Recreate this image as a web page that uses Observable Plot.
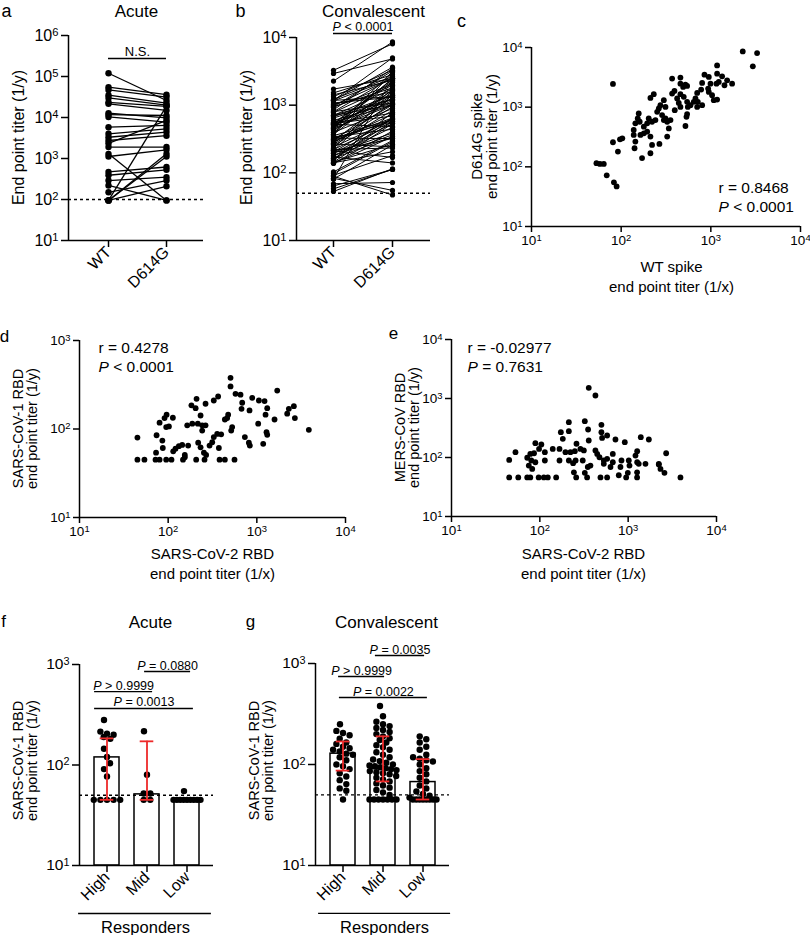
<!DOCTYPE html>
<html><head><meta charset="utf-8">
<script src="https://cdn.jsdelivr.net/npm/d3@7"></script>
<script src="https://cdn.jsdelivr.net/npm/@observablehq/plot@0.6"></script>
<style>
body{margin:0;background:#fff}
#fig{position:relative;width:810px;height:935px;background:#fff}
#fig svg{position:absolute;left:0;top:0}
</style></head><body><div id="fig"></div>
<script>
// ---------- DATA ----------
const pairCats = ["WT", "D614G"];
const respCats = ["High", "Mid", "Low"];

// a: acute, paired WT vs D614G end point titers
const acuteWT    = [120000,55000,47000,35000,30000,23500,21500,12800,11700,10300,5800,4000,3300,2750,2350,1900,1300,1120,470,390,290,220,150,95,95,95,95];
const acuteD614G = [26000,36000,31500,22400,20000,18600,14900,9800,11200,7700,6400,5300,4400,3600,8500,1900,95,1630,620,530,350,95,290,210,1300,1120,19000];

// b & c: convalescent, WT vs D614G spike
const convWT    = [2270,3280,2940,81,1175,849,949,1175,1336,1227,1420,1727,991,1156,933,949,780,704,674,800,716,1079,1175,458,370,521,458,544,393,458,421,439,499,544,554,544,535,593,396,299,231,212,274,263,252,286,312,326,355,340,326,299,241,203,221,195,157,153,161,144,138,138,164,179,195,212,221,212,267,171,144,141,103,97,81,92,53,58,64,69,83,89,521,370,491,800,645,704,1520,1033,312,179,458];
const convD614G = [8590,8050,4830,2450,5010,3510,3210,3640,3290,2650,2330,2480,2480,2480,2050,1800,1970,1730,1400,1080,1230,1310,1340,3130,3010,2390,2480,2270,1870,1650,1400,1180,1490,1230,1010,765,690,1080,891,1310,1650,1430,1080,950,837,736,648,570,608,441,321,608,608,648,570,535,785,648,570,535,414,342,342,364,388,321,233,169,242,140,265,205,301,289,258,180,115,112,112,72,55,47,483,1690,2180,2550,1230,1010,2820,1585,1010,471,1010];

// d: SARS-CoV-2 RBD vs SARS-CoV-1 RBD
const dRBD2 = [505,505,1698,575,655,366,327,209,264,183,204,887,1055,1222,1310,684,827,672,2296,2616,2200,2685,3860,1254,1584,1036,1286,1310,1180,733,813,834,475,463,436,527,514,357,396,327,314,293,373,264,242,216,187,164,242,232,168,144,132,121,114,218,232,253,268,154,154,96,91,113,80,95,102,74,86,87,73,45,45,54,72,80,95,109,147,207,257,380,436,560];
const dRBD1 = [379,303,272,250,244,233,210,219,193,185,172,225,210,207,172,198,162,169,169,181,149,133,98,145,128,115,92,86,68,81,70,65,145,133,128,105,96,88,87,81,71,65,61,110,110,115,115,110,96,142,65,66,64,60,56,70,62,54,51,51,48,145,133,134,118,105,107,85,74,61,54,80,45,45,45,45,45,45,45,45,45,45,45,45];

// e: SARS-CoV-2 RBD vs MERS-CoV RBD
const eRBD2 = [358,426,213,323,498,173,213,352,498,578,507,718,916,1390,1714,182,358,260,89,104,53,45,72,78,86,98,114,140,167,195,222,249,288,315,167,213,254,306,426,446,473,578,670,840,1016,1210,1265,1265,1570,2223,2692,80,89,114,530,75,82,238,243,323,349,374,530,670,631,818,783,1035,991,1318,1262,2223,2322,2576,45,57,72,78,97,111,123,153,258,343,486,578,949,1262,3908];
const eMERS = [1517,1125,397,413,358,269,279,298,269,236,215,202,182,221,202,207,194,171,175,166,123,91,99,115,118,140,123,140,140,123,123,128,140,132,89,89,89,89,132,115,101,95,115,89,89,108,128,83,78,78,118,89,83,89,89,73,64,80,56,55,69,73,78,83,69,69,50,73,55,78,56,76,64,55,46,46,46,46,46,46,46,46,46,46,46,46,46,46,46];

// f: acute SARS-CoV-1 RBD by responder group
const fHigh = [280,215,205,200,190,182,145,120,104,91,77,45,45,45,45,45];
const fMid  = [217,80,52,52,45,45];
const fLow  = [55,45,45,45,45,45,45,45,45,45];
const fBar  = [119,51,45];
const fLo   = [45,45,null];
const fHi   = [184,172,null];

// g: convalescent SARS-CoV-1 RBD by responder group
const gHigh = [250,215,205,195,180,165,160,150,145,140,135,128,125,118,110,100,96,90,82,76,70,64,58,55,45];
const gMid  = [380,300,265,250,240,230,220,210,200,190,182,175,165,155,148,140,132,125,118,112,108,104,100,98,96,94,92,90,88,86,84,82,80,77,74,71,68,65,62,59,56,53,50,45,45,45,45,45,45,45];
const gLow  = [190,178,165,150,140,125,118,114,110,107,100,92,86,80,74,68,62,58,54,51,49,47,45,45,45,45,45,45,45,45];
const gBar  = [128,90,67];
const gLo   = [87,68,45];
const gHi   = [169,190,113];

// significance annotations (category units, titer levels)
const sigA = [{x1: 0, x2: 1, y: 275000, label: "N.S."}];
const sigB = [{x1: 0, x2: 1, y: 11460, label: "P < 0.0001"}];
const sigF = [{x1: 0.94, x2: 2.09, y: 851, label: "P = 0.0880"},
              {x1: -0.31, x2: 1.14, y: 537, label: "P > 0.9999"},
              {x1: -0.31, x2: 2.16, y: 365, label: "P = 0.0013"}];
const sigG = [{x1: 0.81, x2: 2.04, y: 1200, label: "P = 0.0035"},
              {x1: -0.11, x2: 1.04, y: 743, label: "P > 0.9999"},
              {x1: -0.09, x2: 2.11, y: 460, label: "P = 0.0022"}];
const statsC = ["r = 0.8468", "P < 0.0001"];
const statsD = ["r = 0.4278", "P < 0.0001"];
const statsE = ["r = -0.02977", "P = 0.7631"];

// ---------- RENDER ----------
const FONT = '"Liberation Sans", Arial, Helvetica, sans-serif';
const RED = "#ee2a2a";
const W = 810, H = 935;
const fig = document.getElementById("fig");
const pow = d => "10^" + Math.round(Math.log10(d));
const decades = (a, b) => d3.range(a, b + 1).map(e => 10 ** e);
const NS = "http://www.w3.org/2000/svg";

function decorate(svg) {
  svg.querySelectorAll("text, tspan").forEach(t => {
    if (t.children.length) return;
    const s = t.textContent;
    let m = /^10\^(-?\d+)$/.exec(s);
    if (m) {
      t.textContent = "";
      const a = document.createElementNS(NS, "tspan"); a.textContent = "10";
      const b = document.createElementNS(NS, "tspan"); b.textContent = m[1];
      b.setAttribute("dy", "-0.42em"); b.setAttribute("font-size", "0.7em");
      t.append(a, b);
      return;
    }
    if (/^P [<>=]/.test(s)) {
      t.textContent = "";
      const a = document.createElementNS(NS, "tspan"); a.textContent = "P";
      a.setAttribute("font-style", "italic");
      t.append(a, document.createTextNode(s.slice(1)));
    }
  });
}

function render(frame, scales, fs, build) {
  const [l, t, r, b] = frame;
  const T = (str, ax, ay, o = {}) => Plot.text([str], {
    text: d => d, frameAnchor: "top-left", textAnchor: "middle", lineAnchor: "middle",
    dx: ax - l, dy: ay - t, fill: "black", ...o
  });
  const svg = Plot.plot({
    width: W, height: H,
    marginLeft: l, marginTop: t, marginRight: W - r, marginBottom: H - b,
    ...scales,
    style: {background: "transparent", overflow: "visible", fontFamily: FONT, fontSize: fs + "px", color: "black"},
    marks: build(T)
  });
  decorate(svg);
  fig.appendChild(svg);
}

const axY = (ds, fs, o = {}) => Plot.axisY({ticks: ds, tickFormat: pow, tickSize: 7, tickPadding: 3, strokeWidth: 1.5, label: null, fontSize: fs, ...o});
const axXlog = (ds, fs, o = {}) => Plot.axisX({ticks: ds, tickFormat: pow, tickSize: 7, tickPadding: 3, strokeWidth: 1.5, label: null, fontSize: fs, ...o});
const axXcat = (cats, fs, o = {}) => Plot.axisX({ticks: d3.range(cats.length), tickFormat: i => cats[i], tickRotate: -45, tickSize: 7, tickPadding: 2, strokeWidth: 1.5, label: null, fontSize: fs, ...o});

function sigMarks(sig, fs) {
  return [
    Plot.ruleY(sig, {y: "y", x1: "x1", x2: "x2", stroke: "black", strokeWidth: 1.4}),
    Plot.text(sig, {x: d => (d.x1 + d.x2) / 2, y: "y", text: "label", lineAnchor: "bottom", dy: -2, fontSize: fs, fill: "black"})
  ];
}

// ---- a ----
render([68, 35, 203, 240], {x: {type: "linear", domain: [-0.69, 1.638]}, y: {type: "log", domain: [10, 1e6]}}, 16, T => [
  Plot.ruleY([100], {strokeDasharray: "3,3", strokeWidth: 1.4, stroke: "black"}),
  Plot.link(d3.range(acuteWT.length), {x1: () => 0, y1: i => acuteWT[i], x2: () => 1, y2: i => acuteD614G[i], stroke: "black", strokeWidth: 1.3}),
  Plot.dot(acuteWT, {x: () => 0, y: d => d, r: 3.2, fill: "black"}),
  Plot.dot(acuteD614G, {x: () => 1, y: d => d, r: 3.2, fill: "black"}),
  Plot.ruleX([-0.69], {strokeWidth: 1.5, stroke: "black"}),
  Plot.ruleY([10], {strokeWidth: 1.5, stroke: "black"}),
  axY(decades(1, 6), 16),
  axXcat(pairCats, 16),
  ...sigMarks(sigA, 13),
  T("a", 1, 11, {textAnchor: "start", fontSize: 18}),
  T("Acute", 136, 11, {fontSize: 17}),
  T("End point titer (1/y)", 18, 137, {rotate: -90, fontSize: 16})
]);

// ---- b ----
render([296, 37, 430, 240], {x: {type: "linear", domain: [-0.627, 1.644]}, y: {type: "log", domain: [10, 1e4]}}, 16, T => [
  Plot.ruleY([50], {strokeDasharray: "3,3", strokeWidth: 1.4, stroke: "black"}),
  Plot.link(d3.range(convWT.length), {x1: () => 0, y1: i => convWT[i], x2: () => 1, y2: i => convD614G[i], stroke: "black", strokeWidth: 1}),
  Plot.dot(convWT, {x: () => 0, y: d => d, r: 2.6, fill: "black"}),
  Plot.dot(convD614G, {x: () => 1, y: d => d, r: 2.6, fill: "black"}),
  Plot.ruleX([-0.627], {strokeWidth: 1.5, stroke: "black"}),
  Plot.ruleY([10], {strokeWidth: 1.5, stroke: "black"}),
  axY(decades(1, 4), 16),
  axXcat(pairCats, 16),
  ...sigMarks(sigB, 12.5),
  T("b", 240, 11, {fontSize: 18}),
  T("Convalescent", 373, 11, {fontSize: 17}),
  T("End point titer (1/y)", 246, 137, {rotate: -90, fontSize: 16})
]);

// scatter panels c, d, e
function scatter(frame, yMax, xs, ys, fs, textFn) {
  render(frame, {x: {type: "log", domain: [10, 1e4]}, y: {type: "log", domain: [10, yMax]}}, fs, T => [
    Plot.dot(d3.range(xs.length), {x: i => xs[i], y: i => ys[i], r: 2.9, fill: "black"}),
    Plot.ruleX([10], {strokeWidth: 1.5, stroke: "black"}),
    Plot.ruleY([10], {strokeWidth: 1.5, stroke: "black"}),
    axY(decades(1, Math.round(Math.log10(yMax))), fs, {tickSize: 6}),
    axXlog(decades(1, 4), fs, {tickSize: 6}),
    ...textFn(T)
  ]);
}

scatter([531, 47, 800, 226], 1e4, convWT, convD614G, 13.5, T => [
  T("c", 461, 21, {fontSize: 18}),
  T("D614G spike\nend point titer (1/y)", 484, 136, {rotate: -90, fontSize: 15, lineHeight: 1}),
  T("WT spike\nend point titer (1/x)", 671, 275, {fontSize: 15, lineHeight: 1.33}),
  T(statsC[0], 718, 188, {textAnchor: "start", fontSize: 15.5}),
  T(statsC[1], 718, 207, {textAnchor: "start", fontSize: 15.5})
]);

scatter([79, 340, 345, 517], 1e3, dRBD2, dRBD1, 13.5, T => [
  T("d", 4, 336, {fontSize: 17}),
  T("SARS-CoV-1 RBD\nend point titer (1/y)", 25, 428, {rotate: -90, fontSize: 14.5, lineHeight: 1}),
  T("SARS-CoV-2 RBD\nend point titer (1/x)", 212, 562, {fontSize: 15, lineHeight: 1.33}),
  T(statsD[0], 98, 348, {textAnchor: "start", fontSize: 15.5}),
  T(statsD[1], 98, 367, {textAnchor: "start", fontSize: 15.5})
]);

scatter([451, 339, 716, 516], 1e4, eRBD2, eMERS, 13.5, T => [
  T("e", 393, 333, {fontSize: 17}),
  T("MERS-CoV RBD\nend point titer (1/y)", 407, 427, {rotate: -90, fontSize: 14.5, lineHeight: 1}),
  T("SARS-CoV-2 RBD\nend point titer (1/x)", 583, 562, {fontSize: 15, lineHeight: 1.33}),
  T(statsE[0], 467, 348, {textAnchor: "start", fontSize: 15.5}),
  T(statsE[1], 467, 367, {textAnchor: "start", fontSize: 15.5})
]);

// column scatter (rows of points) for f, g
function swarm(groups, frame, yDom, xDom) {
  const [l, t, r, b] = frame;
  const ky = (b - t) / (Math.log10(yDom[1]) - Math.log10(yDom[0]));
  const kx = (r - l) / (xDom[1] - xDom[0]);
  const py = v => t + (Math.log10(yDom[1]) - Math.log10(v)) * ky;
  const out = [];
  groups.forEach((vals, gi) => {
    const items = vals.map(v => ({v, p: py(v)})).sort((a, c) => a.p - c.p);
    const rows = [];
    for (const it of items) {
      const row = rows[rows.length - 1];
      if (row && it.p - row[0].p < 5) row.push(it); else rows.push([it]);
    }
    rows.forEach((row, ri) => {
      const n = row.length;
      const s = n > 1 ? Math.min(6.6, 27 / (n - 1)) : 0;
      const shift = (n === 1) ? ((ri % 3) - 1) * 3 : 0;
      row.forEach((it, k) => out.push({g: gi, v: it.v, x: gi + ((k - (n - 1) / 2) * s + shift) / kx}));
    });
  });
  return out;
}

function columnPanel(frame, groups, bars, lo, hi, sig, title, titleX, letterX, yLabX, respY, respX1, respX2, respTextX) {
  const xDom = [-0.6875, 2.6625], yDom = [10, 1e3];
  const pts = swarm(groups, frame, yDom, xDom);
  const barData = bars.map((v, i) => ({i, v}));
  const err = lo.map((v, i) => ({i, lo: v, hi: hi[i]})).filter(d => d.lo != null);
  render(frame, {x: {type: "linear", domain: xDom}, y: {type: "log", domain: yDom}}, 15.5, T => [
    Plot.rectY(barData, {x1: d => d.i - 0.3125, x2: d => d.i + 0.3125, y1: () => 10, y2: "v", fill: "white", stroke: "black", strokeWidth: 1.5}),
    Plot.ruleY([50], {strokeDasharray: "3,3", strokeWidth: 1.4, stroke: "black"}),
    Plot.dot(pts, {x: "x", y: "v", r: 3.2, fill: "black"}),
    Plot.ruleX(err, {x: "i", y1: "lo", y2: "hi", stroke: RED, strokeWidth: 1.8}),
    Plot.ruleY(err, {y: "hi", x1: d => d.i - 0.17, x2: d => d.i + 0.17, stroke: RED, strokeWidth: 1.8}),
    Plot.ruleY(err, {y: "lo", x1: d => d.i - 0.17, x2: d => d.i + 0.17, stroke: RED, strokeWidth: 1.8}),
    Plot.ruleX([xDom[0]], {strokeWidth: 1.5, stroke: "black"}),
    Plot.ruleY([10], {strokeWidth: 1.5, stroke: "black"}),
    axY(decades(1, 3), 15.5),
    axXcat(respCats, 16),
    ...sigMarks(sig, 12.5),
    Plot.ruleY([respY], {x1: () => respX1, x2: () => respX2, strokeWidth: 1.3, stroke: "black"}),
    T("Responders", respTextX, 927, {fontSize: 16.5}),
    T(letterX[0], letterX[1], 621, {fontSize: 17}),
    T(title, titleX, 622, {fontSize: 17}),
    T("SARS-CoV-1 RBD\nend point titer (1/y)", yLabX, 760, {rotate: -90, fontSize: 14.5, lineHeight: 1})
  ]);
}

columnPanel([79, 664, 213, 865], [fHigh, fMid, fLow], fBar, fLo, fHi, sigF, "Acute", 150, ["f", 3], 25, 3.33, -0.71, 2.61, 145);
columnPanel([315, 663, 449, 865], [gHigh, gMid, gLow], gBar, gLo, gHi, sigG, "Convalescent", 386, ["g", 250], 261, 3.35, -0.61, 2.69, 384);
</script></body></html>
